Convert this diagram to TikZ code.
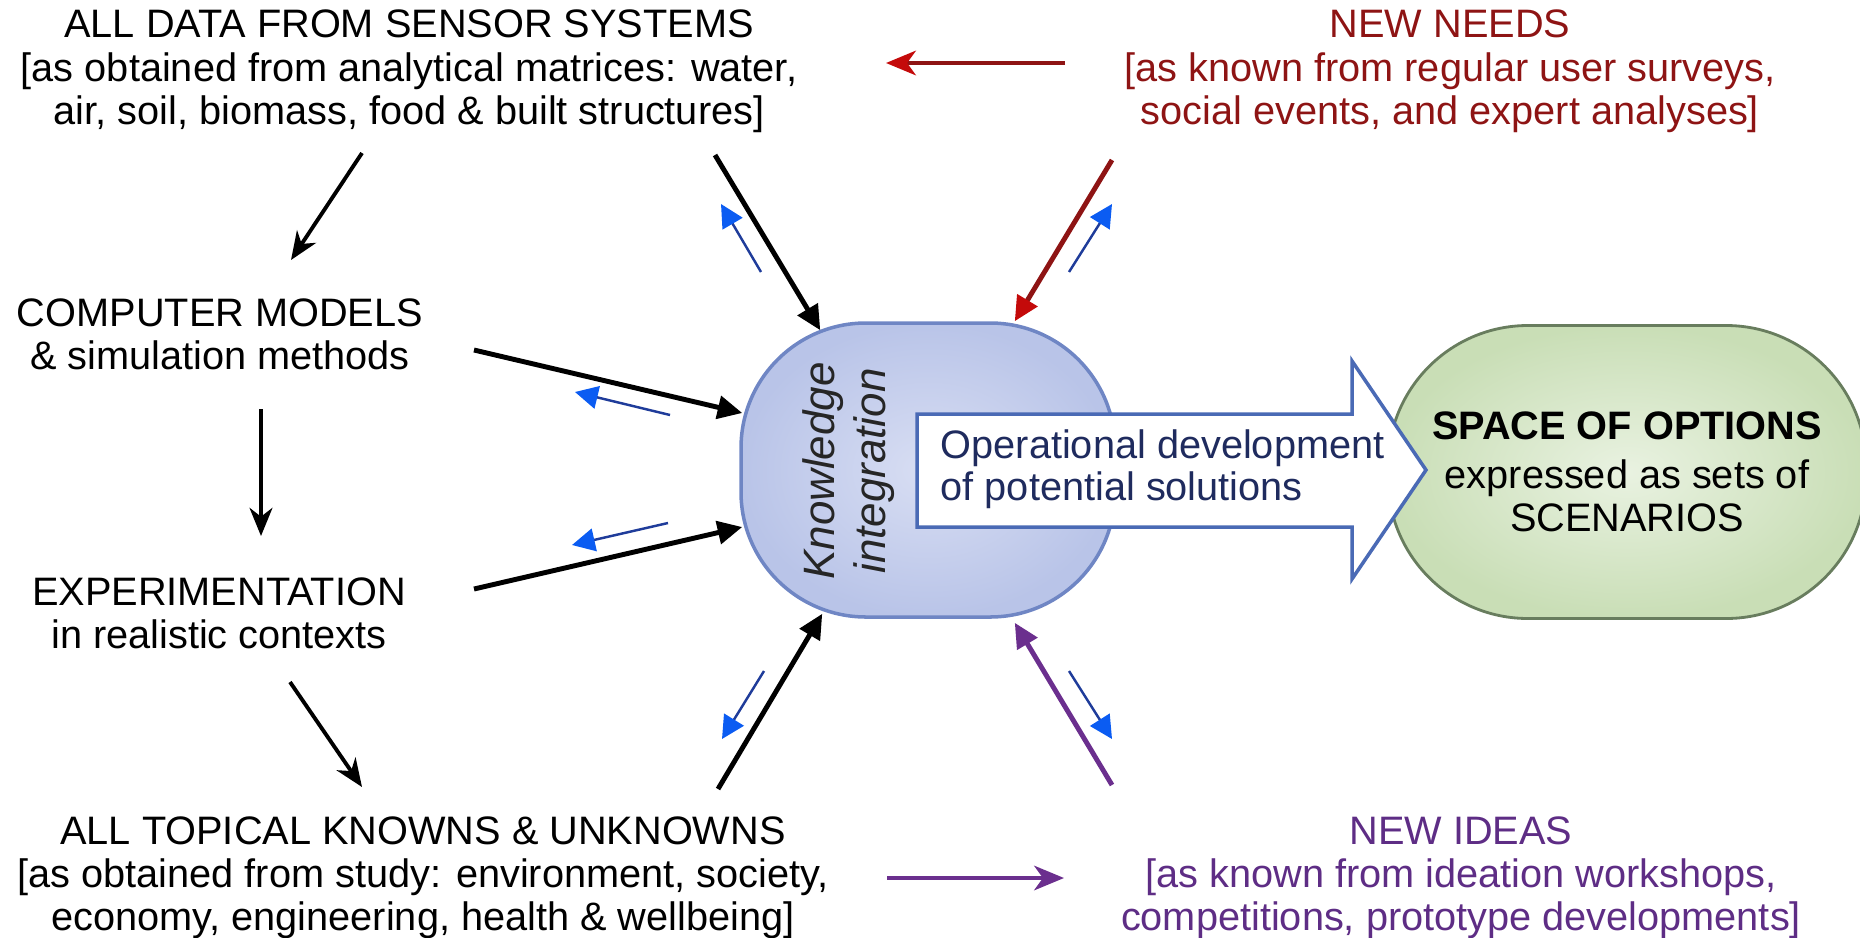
\documentclass[tikz,border=0pt]{standalone}
\usepackage{fontspec}
\setmainfont{Liberation Sans}
\usetikzlibrary{arrows.meta}

\definecolor{needred}{HTML}{8E1414}
\definecolor{needtip}{HTML}{C40A0A}
\definecolor{ideapurple}{HTML}{5E2D85}
\definecolor{idealine}{HTML}{6B2F8E}
\definecolor{backline}{HTML}{1F3C9A}
\definecolor{backtip}{HTML}{0B5CF2}
\definecolor{blobin}{HTML}{D8DEF3}
\definecolor{blobout}{HTML}{B9C4E8}
\definecolor{blobline}{HTML}{6F86C4}
\definecolor{optin}{HTML}{E9F2E1}
\definecolor{optout}{HTML}{C9DEB6}
\definecolor{optline}{HTML}{687D5E}
\definecolor{devline}{HTML}{4A6AB5}
\definecolor{devtext}{HTML}{1F2B5E}

\tikzset{
  txt/.style={align=center, inner sep=0pt, font=\fontsize{11.3}{12.3}\selectfont},
  flow/.style={line width=1.1pt, -{Stealth[length=8pt,width=6.5pt,inset=2.5pt]}},
  feed/.style={line width=1.4pt, -{Triangle[length=7pt,width=6.5pt]}},
  back/.style={draw=backline, line width=0.7pt, -{Triangle[length=6.5pt,width=6.5pt,color=backtip]}}
}

\begin{document}
\begin{tikzpicture}
\useasboundingbox (0,0) rectangle (18.6,9.37);

% the two big shapes
\node[draw=blobline, line width=1pt, shade, inner color=blobin, outer color=blobout,
  rounded corners=1.25cm, minimum width=3.74cm, minimum height=2.94cm] (blob) at (9.28,4.67) {};
\node[draw=optline, line width=0.8pt, shade, inner color=optin, outer color=optout,
  rounded corners=1.4cm, minimum width=4.78cm, minimum height=2.93cm, txt] (opt) at (16.27,4.65)
  {\textbf{SPACE OF OPTIONS}\\[1.4pt]expressed as sets of\\SCENARIOS};
\draw[draw=devline, line width=1pt, fill=white] (9.17,5.23) -- (13.52,5.23) -- (13.52,5.76)
  -- (14.26,4.67) -- (13.52,3.58) -- (13.52,4.10) -- (9.17,4.10) -- cycle;
\node[anchor=west, align=left, inner sep=0pt, text=devtext, font=\fontsize{11.3}{11.9}\selectfont]
  (dev) at (9.40,4.68) {Operational development\\of potential solutions};
\node[rotate=90, align=center, inner sep=0pt, text=black!85, font=\fontsize{12.5}{14.5}\selectfont\itshape]
  (ki) at (8.49,4.66) {Knowledge\\integration};

% text blocks
\node[txt, anchor=north] (data) at (4.09,9.275) {ALL DATA FROM SENSOR SYSTEMS\\{[}as obtained from analytical matrices: water,\\air, soil, biomass, food \& built structures]};
\node[txt, anchor=north] (models) at (2.20,6.39) {COMPUTER MODELS\\\& simulation methods};
\node[txt, anchor=north] (exper) at (2.19,3.60) {EXPERIMENTATION\\in realistic contexts};
\node[txt, anchor=north] (topical) at (4.23,1.21) {ALL TOPICAL KNOWNS \& UNKNOWNS\\{[}as obtained from study: environment, society,\\economy, engineering, health \& wellbeing]};
\node[txt, anchor=north, text=needred] (needs) at (14.50,9.275) {NEW NEEDS\\{[}as known from regular user surveys,\\social events, and expert analyses]};
\node[txt, anchor=north, text=ideapurple] (ideas) at (14.61,1.21) {NEW IDEAS\\{[}as known from ideation workshops,\\competitions, prototype developments]};

% free ends of the arrows
\coordinate (d1) at (3.62,7.84); \coordinate (m1) at (2.91,6.77);
\coordinate (m2) at (2.61,5.28); \coordinate (e2) at (2.61,4.01);
\coordinate (e3) at (2.90,2.55); \coordinate (t3) at (3.62,1.50);
\coordinate (d4) at (7.15,7.82); \coordinate (n6) at (11.12,7.77);
\coordinate (m8) at (4.74,5.87); \coordinate (e10) at (4.74,3.48);
\coordinate (t12) at (7.18,1.48); \coordinate (i14) at (11.12,1.52);
\coordinate (b5s) at (7.61,6.65); \coordinate (b5e) at (7.21,7.33);
\coordinate (b7s) at (10.69,6.65); \coordinate (b7e) at (11.12,7.33);
\coordinate (b9s) at (6.70,5.22); \coordinate (b9e) at (5.75,5.45);
\coordinate (b11s) at (6.68,4.14); \coordinate (b11e) at (5.72,3.92);
\coordinate (b13s) at (7.64,2.66); \coordinate (b13e) at (7.22,1.98);
\coordinate (b15s) at (10.69,2.66); \coordinate (b15e) at (11.12,1.98);
\coordinate (n16) at (10.65,8.74); \coordinate (n16e) at (8.86,8.74);
\coordinate (i17) at (8.87,0.59); \coordinate (i17e) at (10.64,0.59);

% left column
\draw[flow] (d1) -- (m1);
\draw[flow] (m2) -- (e2);
\draw[flow] (e3) -- (t3);

% into the integration
\draw[feed] (d4) -- ([xshift=0.81cm,yshift=-0.09cm]blob.north west);
\draw[feed] (m8) -- ([xshift=0.03cm,yshift=0.57cm]blob.west);
\draw[feed] (e10) -- ([xshift=0.03cm,yshift=-0.57cm]blob.west);
\draw[feed] (t12) -- ([xshift=0.83cm,yshift=0.05cm]blob.south west);
\draw[feed, draw=needred, -{Triangle[length=7pt,width=6.5pt,color=needtip]}] (n6) -- ([xshift=-1.02cm]blob.north east);
\draw[feed, draw=idealine] (i14) -- ([xshift=-1.02cm,yshift=-0.04cm]blob.south east);

% feedback
\draw[back] (b5s) -- (b5e);
\draw[back] (b7s) -- (b7e);
\draw[back] (b9s) -- (b9e);
\draw[back] (b11s) -- (b11e);
\draw[back] (b13s) -- (b13e);
\draw[back] (b15s) -- (b15e);

% needs and ideas
\draw[line width=1.1pt, needred, -{Stealth[length=8.5pt,width=7pt,inset=2.5pt,color=needtip]}] (n16) -- (n16e);
\draw[line width=1.1pt, idealine, -{Stealth[length=8.5pt,width=7pt,inset=2.5pt]}] (i17) -- (i17e);
\end{tikzpicture}
\end{document}
